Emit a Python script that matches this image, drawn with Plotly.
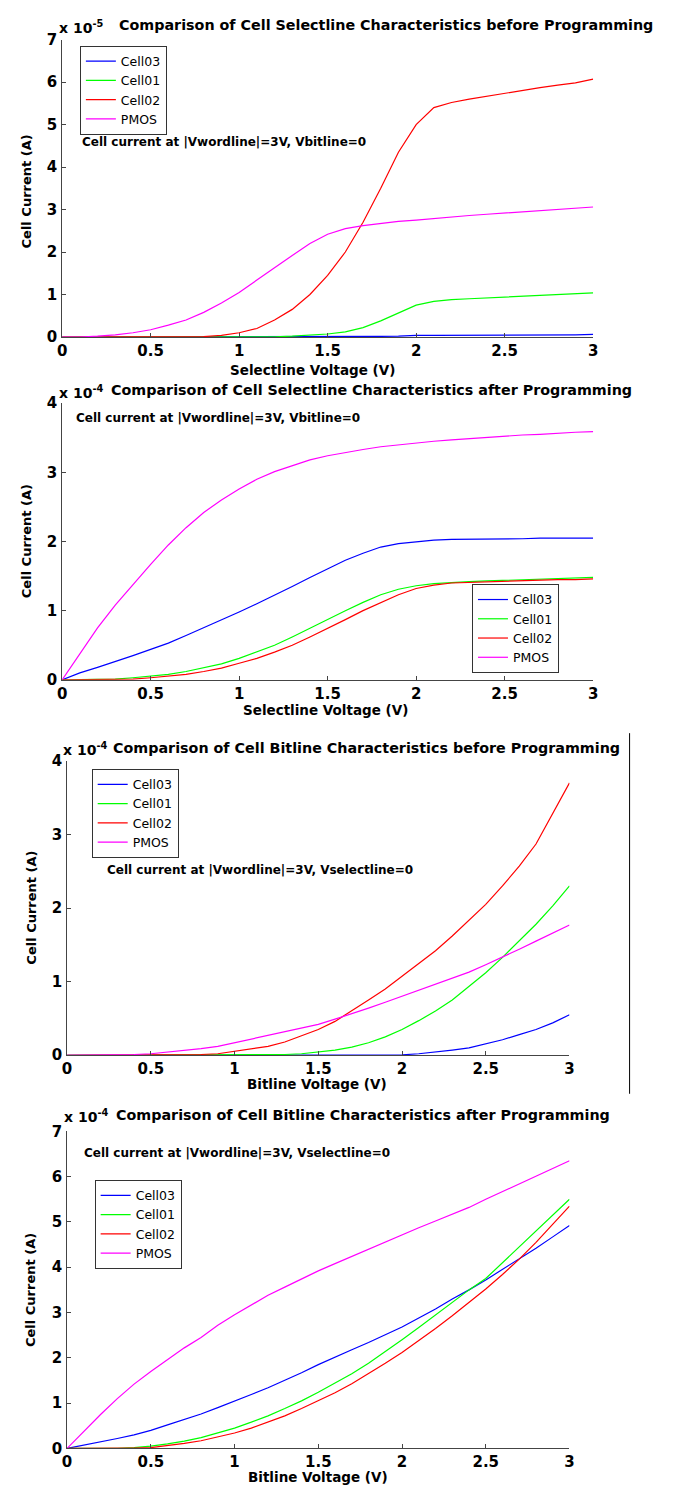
import plotly.graph_objects as go

W, H = 674, 1494

voltage = [round(0.1 * i, 1) for i in range(31)]
series_names = ["Cell03", "Cell01", "Cell02", "PMOS"]
series_colors = ["#0000ff", "#00ff00", "#ff0000", "#ff00ff"]

# Panel 1: Selectline before programming (x 1e-5 A)
sel_before_cell03 = [0, 0, 0, 0, 0, 0, 0, 0, 0, 0, 0, 0, 0, 0, 0, 0, 0.005, 0.01, 0.015, 0.02, 0.04,
                     0.04, 0.04, 0.04, 0.04, 0.04, 0.04, 0.04, 0.04, 0.05, 0.06]
sel_before_cell01 = [0, 0, 0, 0, 0, 0, 0, 0, 0, 0, 0, 0, 0.005, 0.02, 0.04, 0.07, 0.12, 0.22, 0.38, 0.57, 0.75,
                     0.84, 0.88, 0.9, 0.92, 0.94, 0.96, 0.98, 1.0, 1.02, 1.04]
sel_before_cell02 = [0, 0, 0, 0, 0, 0, 0, 0, 0.01, 0.04, 0.1, 0.2, 0.4, 0.65, 1.0, 1.45, 2.0, 2.7, 3.5, 4.35, 5.0,
                     5.4, 5.52, 5.6, 5.67, 5.73, 5.8, 5.87, 5.93, 5.98, 6.07]
sel_before_pmos = [0, 0, 0.02, 0.05, 0.1, 0.17, 0.28, 0.4, 0.58, 0.8, 1.05, 1.33, 1.63, 1.92, 2.2, 2.42, 2.55,
                   2.62, 2.67, 2.72, 2.75, 2.79, 2.83, 2.86, 2.89, 2.92, 2.95, 2.98, 3.0, 3.03, 3.06]

# Panel 2: Selectline after programming (x 1e-4 A)
sel_after_cell03 = [0, 0.1, 0.18, 0.26, 0.35, 0.44, 0.53, 0.64, 0.75, 0.86, 0.98, 1.1, 1.22, 1.35, 1.48, 1.61,
                    1.73, 1.83, 1.92, 1.97, 2.0, 2.02, 2.03, 2.03, 2.04, 2.04, 2.04, 2.05, 2.05, 2.05, 2.05]
sel_after_cell01 = [0, 0, 0, 0.01, 0.03, 0.05, 0.08, 0.12, 0.17, 0.23, 0.31, 0.4, 0.5, 0.62, 0.75, 0.88, 1.0,
                    1.12, 1.23, 1.31, 1.36, 1.39, 1.41, 1.42, 1.43, 1.44, 1.45, 1.46, 1.47, 1.47, 1.48]
sel_after_cell02 = [0, 0, 0, 0, 0.01, 0.03, 0.05, 0.08, 0.12, 0.17, 0.24, 0.31, 0.4, 0.5, 0.62, 0.74, 0.87,
                    1.0, 1.12, 1.23, 1.32, 1.37, 1.4, 1.41, 1.42, 1.43, 1.44, 1.44, 1.45, 1.45, 1.46]
sel_after_pmos = [0, 0.38, 0.75, 1.08, 1.38, 1.67, 1.95, 2.2, 2.42, 2.6, 2.76, 2.9, 3.01, 3.1, 3.18, 3.24,
                  3.29, 3.33, 3.37, 3.4, 3.43, 3.45, 3.47, 3.49, 3.51, 3.53, 3.54, 3.55, 3.57, 3.58, 3.59]

# Panel 3: Bitline before programming (x 1e-4 A)
bit_before_cell03 = [0, 0, 0, 0, 0, 0, 0, 0, 0, 0, 0, 0, 0, 0, 0, 0, 0, 0, 0, 0, 0.005, 0.02, 0.04, 0.07,
                     0.1, 0.15, 0.21, 0.28, 0.35, 0.44, 0.55]
bit_before_cell01 = [0, 0, 0, 0, 0, 0, 0, 0, 0, 0, 0, 0, 0, 0.01, 0.02, 0.04, 0.07, 0.11, 0.17, 0.25, 0.35,
                     0.47, 0.6, 0.75, 0.93, 1.12, 1.33, 1.55, 1.78, 2.03, 2.3]
bit_before_cell02 = [0, 0, 0, 0, 0, 0, 0, 0, 0.01, 0.02, 0.05, 0.08, 0.12, 0.18, 0.26, 0.35, 0.46, 0.6, 0.75,
                     0.9, 1.07, 1.24, 1.42, 1.62, 1.83, 2.05, 2.3, 2.57, 2.87, 3.28, 3.7]
bit_before_pmos = [0, 0, 0, 0, 0.01, 0.02, 0.04, 0.06, 0.09, 0.12, 0.17, 0.21, 0.26, 0.31, 0.36, 0.42, 0.49,
                   0.56, 0.64, 0.72, 0.8, 0.88, 0.96, 1.04, 1.13, 1.23, 1.33, 1.44, 1.55, 1.66, 1.77]

# Panel 4: Bitline after programming (x 1e-4 A)
bit_after_cell03 = [0, 0.07, 0.14, 0.22, 0.3, 0.4, 0.52, 0.64, 0.76, 0.9, 1.04, 1.19, 1.34, 1.5, 1.67, 1.85,
                    2.02, 2.18, 2.34, 2.51, 2.68, 2.88, 3.08, 3.3, 3.5, 3.72, 3.95, 4.18, 4.42, 4.67, 4.92]
bit_after_cell01 = [0, 0, 0, 0, 0.02, 0.05, 0.1, 0.16, 0.24, 0.34, 0.45, 0.58, 0.72, 0.88, 1.05, 1.24, 1.44,
                    1.65, 1.88, 2.13, 2.4, 2.67, 2.95, 3.24, 3.5, 3.75, 4.1, 4.45, 4.8, 5.15, 5.5]
bit_after_cell02 = [0, 0, 0, 0, 0.01, 0.02, 0.06, 0.11, 0.17, 0.25, 0.34, 0.45, 0.58, 0.72, 0.88, 1.05, 1.23,
                    1.43, 1.65, 1.88, 2.12, 2.38, 2.65, 2.93, 3.22, 3.52, 3.84, 4.18, 4.55, 4.95, 5.35]
bit_after_pmos = [0, 0.38, 0.75, 1.1, 1.42, 1.7, 1.97, 2.22, 2.45, 2.72, 2.95, 3.17, 3.38, 3.56, 3.74, 3.92,
                  4.08, 4.24, 4.4, 4.56, 4.72, 4.87, 5.02, 5.17, 5.32, 5.5, 5.67, 5.84, 6.0, 6.17, 6.35]

panels = [
    dict(data=[sel_before_cell03, sel_before_cell01, sel_before_cell02, sel_before_pmos], ymax=7,
         title="Comparison of Cell Selectline Characteristics before Programming", exp="-5",
         xlabel="Selectline Voltage (V)", note="Cell current at |Vwordline|=3V, Vbitline=0",
         box=(58, 597, 31, 332), title_xy=(387, 16), exp_xy=(53, 18), note_xy=(76, 135),
         xlab_xy=(312, 365), ylab_xy=(22, 185), legend=(76, 37, "top")),
    dict(data=[sel_after_cell03, sel_after_cell01, sel_after_cell02, sel_after_pmos], ymax=4,
         title="Comparison of Cell Selectline Characteristics after Programming", exp="-4",
         xlabel="Selectline Voltage (V)", note="Cell current at |Vwordline|=3V, Vbitline=0",
         box=(58, 597, 399, 679), title_xy=(372, 386), exp_xy=(53, 388), note_xy=(70, 414),
         xlab_xy=(325, 710), ylab_xy=(22, 539), legend=(474, 672, "bottom")),
    dict(data=[bit_before_cell03, bit_before_cell01, bit_before_cell02, bit_before_pmos], ymax=4,
         title="Comparison of Cell Bitline Characteristics before Programming", exp="-4",
         xlabel="Bitline Voltage (V)", note="Cell current at |Vwordline|=3V, Vselectline=0",
         box=(63, 573, 761, 1059), title_xy=(367, 748), exp_xy=(57, 749), note_xy=(101, 872),
         xlab_xy=(317, 1088), ylab_xy=(26, 910), legend=(88, 769, "top")),
    dict(data=[bit_after_cell03, bit_after_cell01, bit_after_cell02, bit_after_pmos], ymax=7,
         title="Comparison of Cell Bitline Characteristics after Programming", exp="-4",
         xlabel="Bitline Voltage (V)", note="Cell current at |Vwordline|=3V, Vselectline=0",
         box=(63, 573, 1136, 1457), title_xy=(363, 1119), exp_xy=(58, 1121), note_xy=(78, 1158),
         xlab_xy=(318, 1486), ylab_xy=(26, 1297), legend=(91, 1185, "top")),
]

FONT = "DejaVu Sans, Liberation Sans, sans-serif"


def px(x):
    return x / W


def py(y):
    return 1 - y / H


fig = go.Figure()
annotations = []
layout = dict(width=W, height=H, margin=dict(l=0, r=0, t=0, b=0),
              paper_bgcolor="white", plot_bgcolor="white",
              font=dict(family=FONT, color="black", size=13, weight="bold"))

for i, p in enumerate(panels):
    n = i + 1
    xa = "xaxis" if n == 1 else f"xaxis{n}"
    ya = "yaxis" if n == 1 else f"yaxis{n}"
    xref = "x" if n == 1 else f"x{n}"
    yref = "y" if n == 1 else f"y{n}"
    leg = "legend" if n == 1 else f"legend{n}"
    x0, x1, y0, y1 = p["box"]
    for name, color, vals in zip(series_names, series_colors, p["data"]):
        fig.add_trace(go.Scatter(x=voltage, y=vals, mode="lines", name=name,
                                 line=dict(color=color, width=1.2),
                                 xaxis=xref, yaxis=yref, legend=leg))
    axis_common = dict(ticks="inside", ticklen=4, tickcolor="#444", showline=True,
                       linecolor="#444", linewidth=1, mirror=False, showgrid=False,
                       zeroline=False, tickfont=dict(size=15, family=FONT, weight="bold"))
    layout[xa] = dict(domain=[px(x0), px(x1)], anchor=yref, range=[0, 3],
                      tickvals=[0, 0.5, 1, 1.5, 2, 2.5, 3],
                      ticktext=["0", "0.5", "1", "1.5", "2", "2.5", "3"], **axis_common)
    layout[ya] = dict(domain=[py(y1), py(y0)], anchor=xref, range=[0, p["ymax"]],
                      tickvals=list(range(p["ymax"] + 1)), ticklabelstandoff=1, **axis_common)
    lx, ly, lanchor = p["legend"]
    layout[leg] = dict(x=px(lx), y=py(ly), xanchor="left", yanchor=lanchor,
                       bgcolor="white", bordercolor="#333", borderwidth=1,
                       font=dict(size=12.5, family=FONT, weight="normal"),
                       tracegroupgap=0, itemwidth=30)
    tx, ty = p["title_xy"]
    annotations.append(dict(text=p["title"], x=px(tx), y=py(ty), xref="paper", yref="paper",
                            showarrow=False, xanchor="center", yanchor="middle",
                            font=dict(size=14.3, family=FONT, weight="bold")))
    ex, ey = p["exp_xy"]
    annotations.append(dict(text=f"x 10<sup>{p['exp']}</sup>", x=px(ex), y=py(ey), xref="paper",
                            yref="paper", showarrow=False, xanchor="left", yanchor="middle",
                            font=dict(size=14, family=FONT, weight="bold")))
    nx, ny = p["note_xy"]
    annotations.append(dict(text=p["note"], x=px(nx), y=py(ny), xref="paper", yref="paper",
                            showarrow=False, xanchor="left", yanchor="middle",
                            font=dict(size=12, family=FONT, weight="bold")))
    bx, by = p["xlab_xy"]
    annotations.append(dict(text=p["xlabel"], x=px(bx), y=py(by), xref="paper", yref="paper",
                            showarrow=False, xanchor="center", yanchor="middle",
                            font=dict(size=13.5, family=FONT, weight="bold")))
    yx, yy = p["ylab_xy"]
    annotations.append(dict(text="Cell Current (A)", x=px(yx), y=py(yy), xref="paper", yref="paper",
                            showarrow=False, xanchor="center", yanchor="middle", textangle=-90,
                            font=dict(size=13, family=FONT, weight="bold")))

layout["annotations"] = annotations
layout["shapes"] = [dict(type="line", xref="paper", yref="paper",
                         x0=px(634), x1=px(634), y0=py(733), y1=py(1098),
                         line=dict(color="black", width=1))]
fig.update_layout(**layout)
fig.write_html("out.html")
